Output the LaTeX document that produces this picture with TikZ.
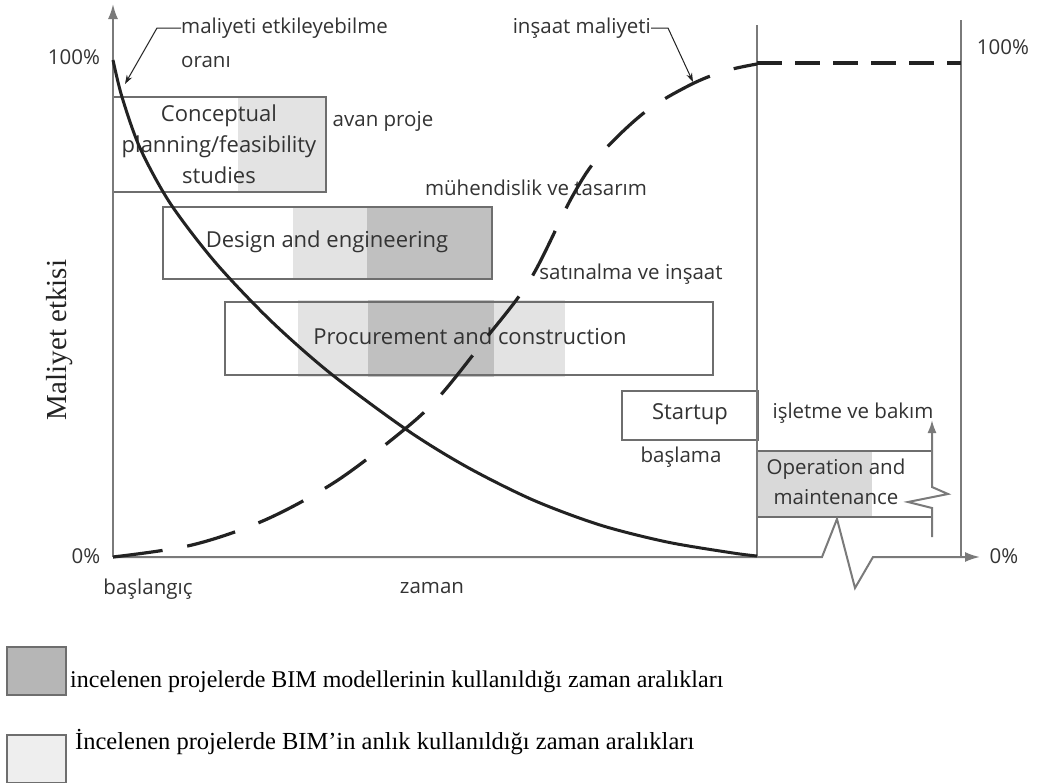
\documentclass[tikz,border=0pt]{standalone}
\usepackage{fontspec}
\setmainfont{Liberation Serif}
\newfontfamily\labfont{Open Sans}
\usetikzlibrary{arrows.meta}
\definecolor{lightfill}{HTML}{E3E3E3}
\definecolor{darkfill}{HTML}{C0C0C0}
\definecolor{opfill}{HTML}{D9D9D9}
\definecolor{edge}{HTML}{6E6E6E}
\definecolor{axisc}{HTML}{7A7A7A}
\definecolor{ink}{HTML}{222222}
\definecolor{txt}{HTML}{333333}
\begin{document}
\begin{tikzpicture}[x=1pt,y=-1pt,
  box/.style={draw=edge,line width=1.5pt,inner sep=0pt},
  boxtext/.style={font=\labfont\fontsize{22}{31}\selectfont,text=txt,align=center,inner sep=0pt},
  lab/.style={font=\labfont\fontsize{20.5}{29}\selectfont,text=txt,inner sep=0pt},
  leg/.style={font=\fontsize{24}{28}\selectfont,text=black,inner sep=0pt,anchor=west},
  legbox/.style={draw=edge,line width=1.5pt,minimum width=59pt,minimum height=48pt,inner sep=0pt},
  axisline/.style={draw=axisc,line width=2pt},
  leader/.style={draw=ink,line width=1pt,-{Stealth[length=9pt,width=6pt]}},
  costcurve/.style={draw=ink,line width=3pt},
  dashcurve/.style={draw=ink,line width=3.2pt,dash pattern=on 50pt off 25pt},
]
\useasboundingbox (0,0) rectangle (1039,782);
\fill[white] (0,0) rectangle (1039,782);

% coordinates
\coordinate (O) at (113,557);
\coordinate (Ytop) at (113,4);
\coordinate (Xend) at (980,557);
\coordinate (V1top) at (757,25);
\coordinate (V1bot) at (757,557);
\coordinate (V2top) at (961,20);
\coordinate (V2bot) at (961,557);

% shaded intervals
\fill[lightfill] (238,97) rectangle (326,192);
\fill[lightfill] (293,207) rectangle (367,279);
\fill[darkfill] (367,207) rectangle (492,279);
\fill[lightfill] (298,300) rectangle (368,377);
\fill[darkfill] (368,300) rectangle (494,377);
\fill[lightfill] (494,300) rectangle (565,377);
\fill[opfill] (757,451) rectangle (872,517);

% boxes
\node[box,minimum width=213pt,minimum height=95pt] (concept) at (219.5,144.5) {};
\node[boxtext] (concepttext) at (219,144) {Conceptual\\planning/feasibility\\studies};
\node[box,minimum width=329pt,minimum height=72pt] (design) at (327.5,243) {};
\node[boxtext] (designtext) at (327,242) {Design and engineering};
\node[box,minimum width=488pt,minimum height=73pt] (proc) at (469,338.5) {};
\node[boxtext] (proctext) at (470,336) {Procurement and construction};
\node[box,minimum width=136pt,minimum height=49pt] (startup) at (690,415.5) {};
\node[boxtext] (startuptext) at (690,414) {Startup};
\draw[draw=edge,line width=1.5pt] (932,451) -- (757,451) (757,517) -- (932,517);
\node[boxtext,font=\labfont\fontsize{20.5}{30}\selectfont] (optext) at (836,482) {Operation and\\maintenance};

% vertical lines
\draw[axisline,line width=1.5pt] (V1top) -- (V1bot);
\draw[axisline,line width=1.5pt] (V2top) -- (V2bot);

% axes
\draw[axisline,-{Latex[length=15pt,width=10pt]}] (O) -- (Ytop);
\draw[axisline,-{Latex[length=15pt,width=10pt]}] (O) -- (757,557) -- (822,557) -- (837,519) -- (855,588) -- (873,557) -- (Xend);
\draw[axisline,-{Latex[length=13pt,width=9pt]}] (932,537) -- (932,508) -- (908,502) -- (948,494) -- (932,487) -- (932,420);

% axis labels
\node[lab] (p100l) at (74,57) {100\%};
\node[lab] (p0l) at (86,556) {0\%};
\node[lab] (p100r) at (1003,47) {100\%};
\node[lab] (p0r) at (1004,556) {0\%};
\node[lab] (start) at (148,589) {başlangıç};
\node[lab] (zaman) at (432,588) {zaman};
\node[font=\fontsize{29}{32}\selectfont,text=ink,rotate=90,inner sep=0pt] (ylab) at (60,340) {Maliyet etkisi};

% phase labels
\node[lab] (avan) at (383,121) {avan proje};
\node[lab] (muh) at (536,188) {mühendislik ve tasarım};
\node[lab] (satin) at (631,274) {satınalma ve inşaat};
\node[lab] (basla) at (681,457) {başlama};
\node[lab] (islet) at (853,413) {işletme ve bakım};

% curve labels with leaders
\node[lab,anchor=west,align=left] (mal) at (181,28) {maliyeti etkileyebilme};
\node[lab,anchor=west] (oran) at (181,62) {oranı};
\node[lab,anchor=east] (insaat) at (651,28) {inşaat maliyeti};
\coordinate (malarrow) at (125,84);
\coordinate (insarrow) at (693,82);
\draw[leader] (mal.west) -- (157,28) -- (malarrow);
\draw[leader] (insaat.east) -- (668,28) -- (insarrow);

% curves
\draw[costcurve] plot[smooth,tension=0.5] coordinates {(113,60) (122,97) (140,148) (170,203) (215,262) (270,320) (330,373) (407,430) (467,467) (533,500) (600,525) (667,542) (733,553) (757,556)};
\draw[dashcurve] plot[smooth,tension=0.55] coordinates {(113,557) (192,545) (265,520) (335,482) (400,433) (438,398) (483,342) (530,280) (572,197) (600,155) (645,112) (690,85) (725,71) (757,64)};
\draw[ink,line width=3.2pt,dash pattern=on 25pt off 13pt] (757,63) -- (961,63);

% legend
\node[legbox,fill=darkfill!95!black] (leg1box) at (36.5,671) {};
\node[leg] (leg1) at (70,682) {incelenen projelerde BIM modellerinin kullanıldığı zaman aralıkları};
\node[legbox,fill=lightfill!60!white] (leg2box) at (36.5,759) {};
\node[leg,font=\fontsize{24.5}{28}\selectfont] (leg2) at (75,742) {İncelenen projelerde BIM’in anlık kullanıldığı zaman aralıkları};
\end{tikzpicture}
\end{document}
